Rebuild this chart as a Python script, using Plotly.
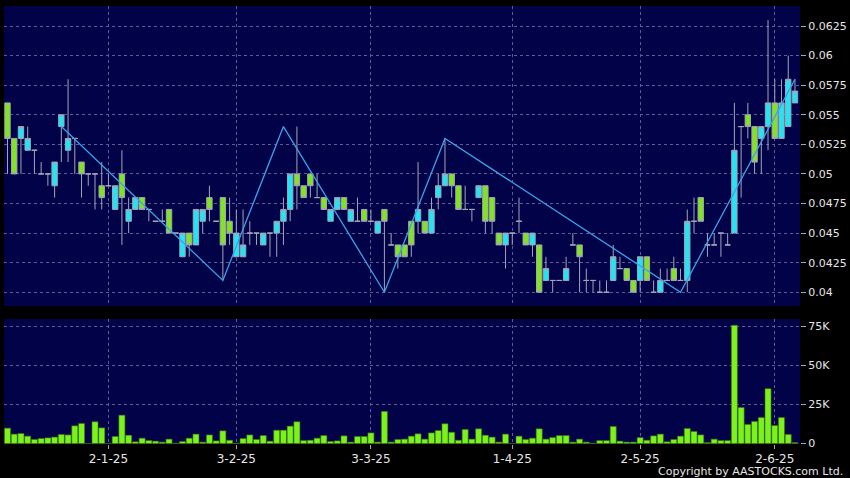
import pandas as pd
import plotly.graph_objects as go

# ---------------- data ----------------
holidays = ["2024-12-25", "2024-12-26", "2025-01-01", "2025-01-29", "2025-01-30",
            "2025-01-31", "2025-04-04", "2025-04-18", "2025-04-21", "2025-05-01",
            "2025-05-05"]
dates = [d.strftime("%Y-%m-%d") for d in pd.bdate_range("2024-12-09", "2025-06-05")
         if d.strftime("%Y-%m-%d") not in holidays]

open_ = [0.056, 0.053, 0.053, 0.052, 0.052, 0.050, 0.050, 0.049, 0.054, 0.052,
         0.053, 0.051, 0.050, 0.050, 0.049, 0.049, 0.047, 0.050, 0.046, 0.047,
         0.048, 0.047, 0.046, 0.046, 0.047, 0.045, 0.043, 0.045, 0.044, 0.046,
         0.048, 0.046, 0.048, 0.046, 0.043, 0.043, 0.045, 0.045, 0.044, 0.045,
         0.045, 0.046, 0.047, 0.050, 0.049, 0.050, 0.048, 0.048, 0.046, 0.047,
         0.048, 0.046, 0.046, 0.047, 0.046, 0.045, 0.047, 0.044, 0.044, 0.044,
         0.046, 0.046, 0.046, 0.045, 0.048, 0.049, 0.050, 0.049, 0.047, 0.047,
         0.048, 0.049, 0.048, 0.045, 0.044, 0.045, 0.046, 0.045, 0.044, 0.044,
         0.041, 0.041, 0.041, 0.041, 0.044, 0.044, 0.041, 0.041, 0.040, 0.040,
         0.041, 0.042, 0.042, 0.041, 0.041, 0.043, 0.040, 0.040, 0.041, 0.042,
         0.041, 0.041, 0.046, 0.048, 0.044, 0.044, 0.045, 0.044, 0.045, 0.054,
         0.055, 0.054, 0.053, 0.054, 0.056, 0.053, 0.054, 0.056]
high = [0.056, 0.053, 0.054, 0.054, 0.052, 0.051, 0.050, 0.051, 0.055, 0.058,
        0.053, 0.051, 0.050, 0.050, 0.051, 0.050, 0.049, 0.052, 0.048, 0.048,
        0.048, 0.047, 0.046, 0.047, 0.047, 0.045, 0.045, 0.045, 0.047, 0.047,
        0.049, 0.046, 0.048, 0.048, 0.047, 0.047, 0.046, 0.045, 0.045, 0.045,
        0.046, 0.048, 0.050, 0.054, 0.049, 0.050, 0.050, 0.048, 0.047, 0.048,
        0.048, 0.047, 0.048, 0.047, 0.047, 0.046, 0.047, 0.045, 0.044, 0.044,
        0.046, 0.051, 0.046, 0.048, 0.050, 0.053, 0.050, 0.049, 0.049, 0.047,
        0.049, 0.049, 0.048, 0.045, 0.045, 0.045, 0.048, 0.045, 0.045, 0.044,
        0.043, 0.041, 0.041, 0.043, 0.045, 0.044, 0.042, 0.041, 0.041, 0.041,
        0.044, 0.043, 0.042, 0.041, 0.043, 0.043, 0.041, 0.042, 0.042, 0.043,
        0.042, 0.047, 0.048, 0.048, 0.045, 0.045, 0.045, 0.045, 0.056, 0.054,
        0.056, 0.054, 0.054, 0.063, 0.058, 0.058, 0.060, 0.058]
low = [0.050, 0.050, 0.050, 0.052, 0.050, 0.050, 0.049, 0.048, 0.051, 0.051,
       0.050, 0.048, 0.049, 0.047, 0.047, 0.049, 0.047, 0.044, 0.045, 0.047,
       0.047, 0.046, 0.046, 0.046, 0.045, 0.045, 0.043, 0.043, 0.044, 0.045,
       0.046, 0.046, 0.041, 0.044, 0.043, 0.043, 0.044, 0.044, 0.044, 0.043,
       0.043, 0.044, 0.046, 0.047, 0.048, 0.048, 0.048, 0.047, 0.046, 0.047,
       0.047, 0.046, 0.046, 0.046, 0.046, 0.045, 0.040, 0.044, 0.042, 0.043,
       0.043, 0.045, 0.045, 0.045, 0.047, 0.049, 0.048, 0.047, 0.047, 0.046,
       0.048, 0.045, 0.045, 0.044, 0.042, 0.044, 0.045, 0.044, 0.043, 0.040,
       0.041, 0.040, 0.041, 0.041, 0.044, 0.040, 0.040, 0.040, 0.040, 0.040,
       0.041, 0.042, 0.041, 0.040, 0.040, 0.041, 0.040, 0.040, 0.041, 0.041,
       0.041, 0.040, 0.045, 0.046, 0.043, 0.044, 0.043, 0.044, 0.045, 0.048,
       0.053, 0.050, 0.050, 0.052, 0.053, 0.053, 0.054, 0.056]
close = [0.053, 0.050, 0.054, 0.053, 0.052, 0.050, 0.050, 0.051, 0.055, 0.053,
         0.053, 0.050, 0.050, 0.050, 0.048, 0.049, 0.049, 0.048, 0.047, 0.048,
         0.047, 0.047, 0.046, 0.046, 0.045, 0.045, 0.045, 0.044, 0.047, 0.047,
         0.047, 0.046, 0.044, 0.045, 0.045, 0.044, 0.045, 0.045, 0.045, 0.045,
         0.046, 0.047, 0.050, 0.049, 0.048, 0.049, 0.048, 0.047, 0.047, 0.048,
         0.047, 0.047, 0.046, 0.046, 0.046, 0.046, 0.046, 0.044, 0.043, 0.043,
         0.044, 0.047, 0.045, 0.047, 0.049, 0.050, 0.049, 0.047, 0.047, 0.047,
         0.049, 0.046, 0.046, 0.044, 0.045, 0.045, 0.046, 0.044, 0.045, 0.040,
         0.042, 0.041, 0.041, 0.042, 0.044, 0.043, 0.041, 0.041, 0.040, 0.040,
         0.043, 0.042, 0.041, 0.040, 0.043, 0.041, 0.040, 0.041, 0.041, 0.041,
         0.041, 0.046, 0.046, 0.046, 0.044, 0.044, 0.045, 0.044, 0.052, 0.054,
         0.054, 0.051, 0.054, 0.056, 0.053, 0.056, 0.058, 0.057]
volume = [9800, 6000, 6400, 4700, 2600, 3200, 3600, 4100, 5800, 5500,
          11300, 12800, 0, 13900, 10000, 0, 4500, 18100, 5300, 1100,
          3400, 1900, 1500, 900, 2800, 200, 1300, 3400, 6000, 900,
          5500, 1700, 8100, 2100, 200, 3200, 5500, 2600, 5100, 1500,
          8500, 8500, 11100, 13900, 1900, 2100, 3400, 5100, 1300, 1700,
          4900, 900, 4500, 4500, 6800, 900, 20500, 900, 2600, 2800,
          4700, 6200, 2800, 6800, 8300, 12600, 7200, 2100, 9000, 2800,
          9400, 5300, 4100, 900, 6000, 0, 4700, 2600, 3400, 9400,
          2800, 3800, 5100, 5100, 900, 2800, 900, 200, 1900, 1900,
          10900, 1500, 900, 900, 3800, 2100, 4900, 6000, 1100, 2600,
          4700, 9600, 7700, 5500, 600, 2800, 1900, 1900, 75500, 23000,
          12200, 14100, 16600, 35000, 11500, 16600, 5800, 600]

zigzag_dates = ["2024-12-19", "2025-01-27", "2025-02-12", "2025-03-05",
                "2025-03-18", "2025-05-13", "2025-06-05"]
zigzag_values = [0.054, 0.041, 0.054, 0.040, 0.053, 0.040, 0.058]

price_ticks = [0.04, 0.0425, 0.045, 0.0475, 0.05, 0.0525, 0.055, 0.0575, 0.06, 0.0625]
price_labels = ["0.04", "0.0425", "0.045", "0.0475", "0.05", "0.0525", "0.055",
                "0.0575", "0.06", "0.0625"]
vol_ticks = [0, 25000, 50000, 75000]
vol_labels = ["0", "25K", "50K", "75K"]
date_ticks = ["2025-01-02", "2025-02-03", "2025-03-03", "2025-04-01", "2025-05-02", "2025-06-02"]
date_labels = ["2-1-25", "3-2-25", "3-3-25", "1-4-25", "2-5-25", "2-6-25"]

# ---------------- style ----------------
W, H = 850, 478
BG = "#020248"
GRID = "#5c5c98"
WICK = "#a4a4b8"
CYAN = "#22e4f2"
GREEN = "#80e41e"
TXT = "#e6e6e6"
FONT = "DejaVu Sans"

fig = go.Figure()
fig.add_trace(go.Candlestick(
    x=dates, open=open_, high=high, low=low, close=close,
    increasing=dict(fillcolor=CYAN, line=dict(color=WICK, width=1)),
    decreasing=dict(fillcolor=GREEN, line=dict(color=WICK, width=1)),
    whiskerwidth=0, xaxis="x", yaxis="y", hoverinfo="skip"))
fig.add_trace(go.Scatter(
    x=zigzag_dates, y=zigzag_values, mode="lines",
    line=dict(color="#3aa2ea", width=1.3), xaxis="x", yaxis="y", hoverinfo="skip"))
fig.add_trace(go.Bar(
    x=dates, y=volume, marker=dict(color="#7cf21c", line=dict(color="#3a7010", width=0.6)),
    xaxis="x2", yaxis="y2", hoverinfo="skip"))

xdom = [4 / W, 800 / W]
xrange = [-0.52, 117.75]
common_x = dict(type="category", categoryorder="array", categoryarray=dates,
                range=xrange, domain=xdom, tickvals=date_ticks, ticktext=date_labels,
                showgrid=True, gridcolor=GRID, griddash="3px,3px", gridwidth=1,
                zeroline=False, showline=False, fixedrange=True, automargin=False)

fig.update_layout(
    width=W, height=H, autosize=False,
    margin=dict(l=0, r=0, t=0, b=0, pad=0),
    paper_bgcolor="black", plot_bgcolor=BG,
    showlegend=False,
    boxgap=0.2, boxgroupgap=0, bargap=0.1,
    font=dict(family=FONT, size=11, color=TXT),
    xaxis=dict(**common_x, anchor="y", showticklabels=False, ticks="",
               rangeslider=dict(visible=False)),
    xaxis2=dict(**common_x, anchor="y2", matches="x", showticklabels=True,
                ticks="outside", ticklen=4, tickcolor=WICK,
                tickfont=dict(family=FONT, size=12, color=TXT)),
    yaxis=dict(domain=[(H - 306) / H, (H - 6) / H], range=[0.03884, 0.06419],
               side="right", anchor="x", tickvals=price_ticks, ticktext=price_labels,
               showgrid=True, gridcolor=GRID, griddash="3px,3px", gridwidth=1,
               ticks="outside", ticklen=5, tickcolor=WICK, zeroline=False, automargin=False,
               tickfont=dict(family=FONT, size=11, color=TXT), fixedrange=True),
    yaxis2=dict(domain=[(H - 444) / H, (H - 319) / H], range=[-300, 79500],
                side="right", anchor="x2", tickvals=vol_ticks, ticktext=vol_labels,
                showgrid=True, gridcolor=GRID, griddash="3px,3px", gridwidth=1,
                ticks="outside", ticklen=5, tickcolor=WICK, zeroline=False, automargin=False,
                tickfont=dict(family=FONT, size=11, color=TXT), fixedrange=True),
    annotations=[dict(text="Copyright by AASTOCKS.com Ltd.", xref="paper", yref="paper",
                      x=845 / W, y=(H - 471.5) / H, xanchor="right", yanchor="middle",
                      showarrow=False, font=dict(family=FONT, size=11, color=TXT))],
)

post = ("document.documentElement.style.margin='0';"
        "document.body.style.margin='0';document.body.style.padding='0';"
        "document.body.style.overflow='hidden';"
        "var gd=document.getElementById('{plot_id}');"
        "gd.style.width='850px';gd.style.height='478px';"
        "Plotly.relayout(gd,{width:850,height:478});")
fig.write_html("out.html", config={"displayModeBar": False, "responsive": False},
               post_script=post)
